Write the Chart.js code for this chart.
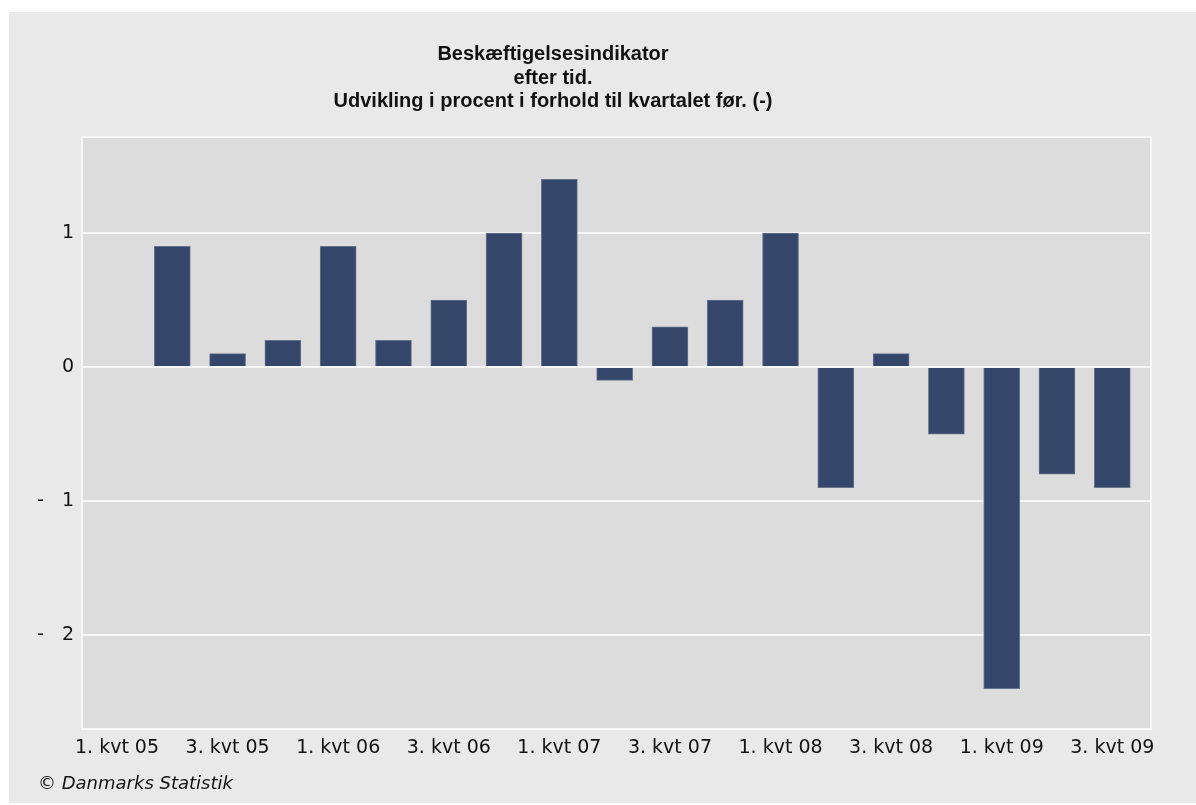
<!DOCTYPE html>
<html><head><meta charset="utf-8">
<script src="https://cdn.jsdelivr.net/npm/chart.js@4.4.1/dist/chart.umd.min.js"></script>
<style>
html,body{margin:0;padding:0;background:#fff;}
#wrap{position:absolute;left:9px;top:12px;width:1187px;height:791px;background:#e9e9e9;}
canvas{display:block;}
</style></head><body>
<div id="wrap"><canvas id="c" width="1187" height="791"></canvas></div>
<script>
const categories = [
  "1. kvt 05","2. kvt 05","3. kvt 05","4. kvt 05",
  "1. kvt 06","2. kvt 06","3. kvt 06","4. kvt 06",
  "1. kvt 07","2. kvt 07","3. kvt 07","4. kvt 07",
  "1. kvt 08","2. kvt 08","3. kvt 08","4. kvt 08",
  "1. kvt 09","2. kvt 09","3. kvt 09"
];
const values = [null, 0.9, 0.1, 0.2, 0.9, 0.2, 0.5, 1.0, 1.4, -0.1, 0.3, 0.5, 1.0, -0.9, 0.1, -0.5, -2.4, -0.8, -0.9];
const yTickValues = [-2, -1, 0, 1];
const titleLines = ["Beskæftigelsesindikator", "efter tid.", "Udvikling i procent i forhold til kvartalet før. (-)"];
const footerText = "© Danmarks Statistik";

const framePlugin = {
  id: 'frame',
  beforeDraw(chart) {
    const {ctx, chartArea: a} = chart;
    ctx.save();
    ctx.fillStyle = '#dcdcdc';
    ctx.fillRect(a.left, a.top, a.right - a.left, a.bottom - a.top);
    ctx.strokeStyle = '#f7f7f7';
    ctx.lineWidth = 2;
    ctx.strokeRect(a.left, a.top, a.right - a.left, a.bottom - a.top);
    ctx.restore();
  },
  afterDraw(chart) {
    const ctx = chart.ctx;
    ctx.save();
    ctx.fillStyle = '#111';
    ctx.textAlign = 'center';
    ctx.textBaseline = 'alphabetic';
    ctx.font = 'bold 20px "Liberation Sans", Arial, sans-serif';
    const baselines = [48, 72, 95];
    titleLines.forEach((t, i) => ctx.fillText(t, 544, baselines[i]));
    ctx.textAlign = 'left';
    ctx.font = 'italic 18px "DejaVu Sans", sans-serif';
    ctx.fillText(footerText, 29, 777);
    ctx.restore();
  }
};

new Chart(document.getElementById('c'), {
  type: 'bar',
  data: {
    datasets: [{
      data: values.map((v, i) => ({x: i, y: v})),
      backgroundColor: '#34466a',
      borderColor: '#66738f',
      borderWidth: 1,
      barThickness: 36
    }]
  },
  options: {
    responsive: false,
    animation: false,
    layout: {padding: {left: 0, right: 45, top: 125, bottom: 0}},
    plugins: {legend: {display: false}, tooltip: {enabled: false}, title: {display: false}},
    scales: {
      x: {
        type: 'linear',
        offset: false,
        min: -0.633,
        max: 18.70,
        afterBuildTicks: s => { s.ticks = categories.map((c, i) => ({value: i})).filter(t => t.value % 2 === 0); },
        afterFit: s => { s.height = 74; },
        grid: {display: false, drawTicks: false},
        border: {display: false},
        ticks: {autoSkip: false, maxRotation: 0, minRotation: 0, padding: 8,
          font: {family: 'DejaVu Sans', size: 19}, color: '#111',
          callback: v => categories[v]}
      },
      y: {
        min: -2.7,
        max: 1.716,
        afterBuildTicks: s => { s.ticks = yTickValues.map(v => ({value: v})); },
        afterFit: s => { s.width = 73; },
        grid: {color: '#f7f7f7', lineWidth: 2, drawTicks: false},
        border: {display: false},
        ticks: {padding: 8, font: {family: 'DejaVu Sans', size: 19}, color: '#111',
          callback: v => v < 0 ? '-   ' + Math.abs(v) : String(v)}
      }
    }
  },
  plugins: [framePlugin]
});
</script>
</body></html>
